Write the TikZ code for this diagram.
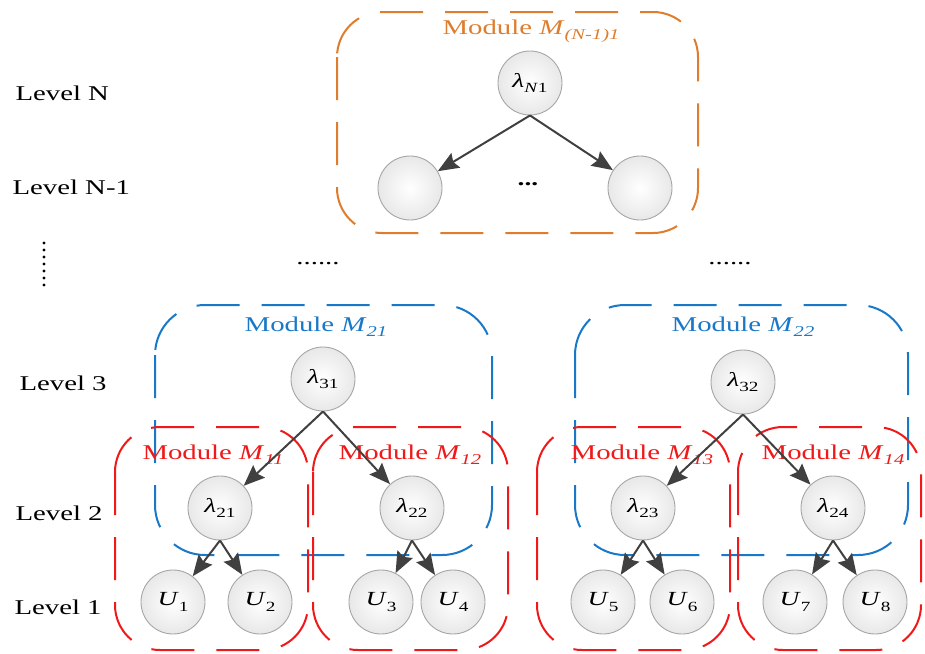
\documentclass[tikz,border=0pt]{standalone}
\usepackage{fontspec}
\setmainfont{Liberation Serif}[FakeStretch=1.37]
\usepackage{tikz}
\usetikzlibrary{arrows.meta,positioning}
\definecolor{modorange}{RGB}{222,125,45}
\definecolor{modblue}{RGB}{25,120,200}
\definecolor{modred}{RGB}{240,25,25}
\tikzstyle{vertex}=[draw=gray!70,line width=0.9pt,circle,minimum size=64pt,inner sep=0pt,inner color=white,outer color=gray!18,font=\fontsize{20}{22}\selectfont]
\tikzstyle{edge}=[draw=black!75,line width=2pt,-{Stealth[length=21pt,width=17pt,inset=3pt]}]
\tikzstyle{module}=[line width=2pt,dash pattern=on 43pt off 22pt]
\tikzstyle{lvl}=[anchor=west,font=\fontsize{21}{25}\selectfont]
\tikzstyle{modtext}=[font=\fontsize{21}{25}\selectfont]
\newcommand{\lamnode}[1]{\textit{λ}\raisebox{-0.6ex}{\fontsize{14}{16}\selectfont #1}}
\newcommand{\unode}[1]{\textit{U}\raisebox{-0.6ex}{\fontsize{14}{16}\selectfont #1}}
\newcommand{\modlabel}[1]{Module \textit{M}\raisebox{-0.5ex}{\fontsize{15}{17}\selectfont\itshape #1}}

\begin{document}
\begin{tikzpicture}[x=1pt,y=-1pt]
\useasboundingbox (0,0) rectangle (925,653);

% level names
\node[lvl] (lN)  at (12,93)  {Level N};
\node[lvl] (lN1) at (9,187)  {Level N-1};
\node[lvl] (l3)  at (16,383) {Level 3};
\node[lvl] (l2)  at (12,513) {Level 2};
\node[lvl] (l1)  at (11,607) {Level 1};
\foreach \i in {0,...,6}
  \fill (44,243+7*\i) circle (1.6pt);

% top module
\draw[module,modorange,rounded corners=45pt] (337,12) rectangle (698,233);
\node[modtext,text=modorange] (mtop) at (531,31) {\modlabel{(N-1)1}};
\node[vertex] (lNa) at (530,83) {\lamnode{\textit{N}1}};
\node[vertex] (ea) at (410,188) {};
\node[vertex] (eb) at (640,188) {};
\node[font=\fontsize{20}{22}\selectfont\bfseries] (edots) at (528,184) {...};
\draw[edge] (lNa.south) -- (ea);
\draw[edge] (lNa.south) -- (eb);

\node[modtext] (dl) at (318,264) {......};
\node[modtext] (dr) at (730,264) {......};

% level 3 modules
\draw[module,modblue,rounded corners=50pt] (155,305) rectangle (492,555);
\draw[module,modblue,rounded corners=50pt] (575,305) rectangle (908,555);
\node[modtext,text=modblue] (m21) at (316,327) {\modlabel{21}};
\node[modtext,text=modblue] (m22) at (743,327) {\modlabel{22}};

% level 2 modules
\draw[module,modred,rounded corners=45pt] (115,427) rectangle (308,650);
\draw[module,modred,rounded corners=45pt] (313,427) rectangle (508,650);
\draw[module,modred,rounded corners=45pt] (537,427) rectangle (730,650);
\draw[module,modred,rounded corners=45pt] (738,427) rectangle (921,650);
\node[modtext,text=modred] (m11) at (213,455) {\modlabel{11}};
\node[modtext,text=modred] (m12) at (410,455) {\modlabel{12}};
\node[modtext,text=modred] (m13) at (642,455) {\modlabel{13}};
\node[modtext,text=modred] (m14) at (833,455) {\modlabel{14}};

% nodes
\node[vertex] (l31) at (323,379) {\lamnode{31}};
\node[vertex] (l32) at (743,382) {\lamnode{32}};
\node[vertex] (l21) at (220,508) {\lamnode{21}};
\node[vertex] (l22) at (412,508) {\lamnode{22}};
\node[vertex] (l23) at (643,508) {\lamnode{23}};
\node[vertex] (l24) at (833,508) {\lamnode{24}};
\node[vertex] (u1) at (173,602) {\unode{1}};
\node[vertex] (u2) at (260,602) {\unode{2}};
\node[vertex] (u3) at (381,602) {\unode{3}};
\node[vertex] (u4) at (453,602) {\unode{4}};
\node[vertex] (u5) at (603,602) {\unode{5}};
\node[vertex] (u6) at (682,602) {\unode{6}};
\node[vertex] (u7) at (795,602) {\unode{7}};
\node[vertex] (u8) at (875,602) {\unode{8}};

% edges
\draw[edge] (l31.south) -- (l21);
\draw[edge] (l31.south) -- (l22);
\draw[edge] (l32.south) -- (l23);
\draw[edge] (l32.south) -- (l24);
\draw[edge] (l21.south) -- (u1);
\draw[edge] (l21.south) -- (u2);
\draw[edge] (l22.south) -- (u3);
\draw[edge] (l22.south) -- (u4);
\draw[edge] (l23.south) -- (u5);
\draw[edge] (l23.south) -- (u6);
\draw[edge] (l24.south) -- (u7);
\draw[edge] (l24.south) -- (u8);
\end{tikzpicture}
\end{document}
